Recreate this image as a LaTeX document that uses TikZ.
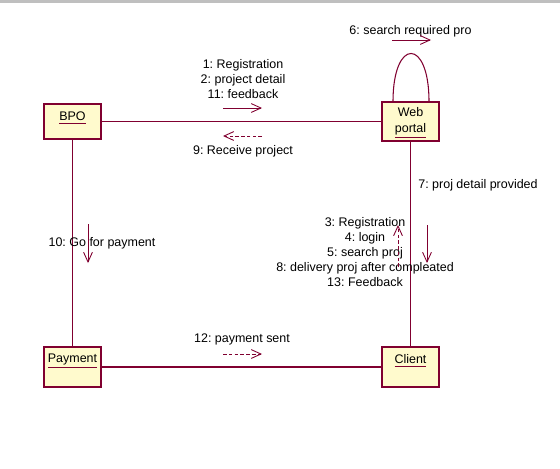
\documentclass[tikz,border=0pt]{standalone}
\usepackage{fontspec}
\setmainfont{Liberation Sans}
\usetikzlibrary{positioning}
\usetikzlibrary{arrows.meta}
\usetikzlibrary{calc}
\definecolor{umlred}{RGB}{128,0,48}
\definecolor{umlfill}{RGB}{255,250,205}
\newcommand{\objname}[1]{{\color{umlred}\underline{\color{black}#1}}}
\frenchspacing

\begin{document}
\begin{tikzpicture}[x=0.02cm,y=-0.02cm,
    obj/.style={draw=umlred, fill=umlfill, line width=0.6pt, minimum width=1.14cm, inner sep=0pt},
    link/.style={umlred, line width=0.6pt},
    msg/.style={umlred, line width=0.5pt, -{Straight Barb[length=5.5pt,width=5pt]}},
    ret/.style={msg, dash pattern=on 2pt off 1.3pt},
    lbl/.style={font=\fontsize{7.1pt}{8.5pt}\selectfont, align=center, inner sep=0pt}]
        \useasboundingbox (0,0) rectangle (560,468);
        \draw[gray!50, line width=1.3pt] (0,1.5) -- (560,1.5);
        \draw[gray!50, line width=0.8pt] (128,0) -- (128,2);

        % links first, boxes on top
        \coordinate (bpoC) at (72.5,121.5);
        \coordinate (webC) at (410.5,121.5);
        \coordinate (payC) at (72.5,367);
        \coordinate (cliC) at (410.5,367);
        \draw[link] (bpoC) -- (webC);
        \draw[link] (bpoC) -- (payC);
        \draw[link] (webC) -- (cliC);
        \draw[link] (payC) -- (cliC);

        \node[obj, minimum height=0.7cm] (bpo) at (bpoC) {};
        \node[obj, minimum height=0.78cm] (web) at (webC) {};
        \node[obj, minimum height=0.8cm] (pay) at (payC) {};
        \node[obj, minimum height=0.8cm] (cli) at (cliC) {};

        \node[lbl] (bponame) at ($(bpo.north)+(0,14.5)$) {\objname{BPO}};
        \node[lbl, font=\fontsize{7.1pt}{9pt}\selectfont] (webname) at ($(web.north)+(0,21.5)$) {Web\\\objname{portal}};
        \node[lbl] (payname) at ($(pay.north)+(0,14.5)$) {\objname{Payment}};
        \node[lbl] (cliname) at ($(cli.north)+(0,14.5)$) {\objname{Client}};

        % self link on the portal
        \coordinate (loopA) at ($(web.north)+(-17.5,0)$);
        \coordinate (loopB) at ($(web.north)+(18.5,0)$);
        \draw[link] (loopA) .. controls ($(loopA)+(0,-64)$) and ($(loopB)+(0,-64)$) .. (loopB);

        % messages
        \node[lbl] (m1) at (243,79) {1: Registration\\2: project detail\\11: feedback};
        \draw[msg] (223,108) -- (262,108);
        \node[lbl] (m9) at (243,151) {9: Receive project};
        \draw[ret] (262,136) -- (223,136);
        \node[lbl] (m6) at (410.5,31) {6: search required pro};
        \draw[msg] (392,40) -- (431,40);
        \node[lbl] (m7) at (478,185) {7: proj detail provided};
        \draw[msg] (427,225) -- (427,263);
        \node[lbl] (m3) at (365,252) {3: Registration\\4: login\\5: search proj\\8: delivery proj after compleated\\13: Feedback};
        \draw[ret] (398,267) -- (398,225);
        \node[lbl] (m10) at (102,243) {10: Go for payment};
        \draw[msg] (88,224) -- (88,263);
        \node[lbl] (m12) at (242,339) {12: payment sent};
        \draw[ret] (223,354) -- (262,354);
    \end{tikzpicture}
\end{document}
